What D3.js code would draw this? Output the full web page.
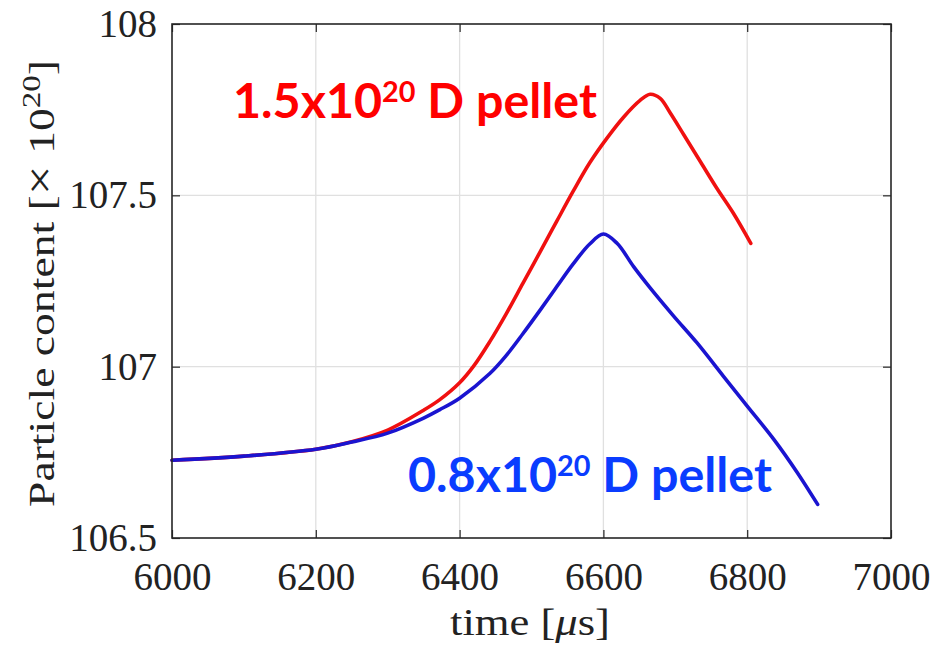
<!DOCTYPE html>
<html>
<head>
<meta charset="utf-8">
<script src="https://cdn.jsdelivr.net/npm/d3@7"></script>
<style>
  html, body { margin: 0; padding: 0; background: #fff; }
  svg { display: block; }
</style>
</head>
<body>
<svg id="chart" width="935" height="647"></svg>
<script>
// ---- data ----
const redTime = [6000, 6100, 6200, 6250, 6300, 6350, 6372, 6400, 6420, 6442, 6465, 6488, 6512, 6535, 6558, 6581, 6605, 6628, 6651, 6665, 6679, 6693, 6712, 6735, 6758, 6781, 6805];
const redValue = [106.727, 106.739, 106.759, 106.781, 106.815, 106.873, 106.903, 106.953, 107.003, 107.073, 107.155, 107.243, 107.335, 107.424, 107.512, 107.595, 107.667, 107.728, 107.777, 107.795, 107.783, 107.74, 107.676, 107.598, 107.52, 107.447, 107.36];
const blueTime = [6000, 6100, 6200, 6250, 6300, 6350, 6372, 6400, 6442, 6465, 6488, 6512, 6535, 6558, 6581, 6600, 6619, 6642, 6665, 6698, 6730, 6767, 6800, 6837, 6870, 6898];
const blueValue = [106.727, 106.739, 106.759, 106.78, 106.806, 106.85, 106.874, 106.908, 106.98, 107.033, 107.096, 107.165, 107.233, 107.3, 107.358, 107.387, 107.36, 107.292, 107.23, 107.147, 107.07, 106.972, 106.885, 106.788, 106.69, 106.598];
const xTicks = [6000, 6200, 6400, 6600, 6800, 7000];
const yTicks = [106.5, 107, 107.5, 108];
const yTickLabels = ["106.5", "107", "107.5", "108"];

const svg = d3.select("#chart");
const L = 172, R = 891, T = 24, B = 538;
const x = d3.scaleLinear().domain([6000, 7000]).range([L, R]);
const y = d3.scaleLinear().domain([106.5, 108]).range([B, T]);

const serif = "'Liberation Serif', 'DejaVu Serif', serif";

// grid
const grid = svg.append("g");
grid.selectAll("line.gx").data(xTicks.slice(1, -1)).enter().append("line")
  .attr("x1", d => x(d)).attr("x2", d => x(d)).attr("y1", T).attr("y2", B)
  .attr("stroke", "#e0e0e0").attr("stroke-width", 1.3);
grid.selectAll("line.gy").data(yTicks.slice(1, -1)).enter().append("line")
  .attr("x1", L).attr("x2", R).attr("y1", d => y(d)).attr("y2", d => y(d))
  .attr("stroke", "#e0e0e0").attr("stroke-width", 1.3);

// lines
const line = d3.line().x(d => x(d[0])).y(d => y(d[1])).curve(d3.curveCatmullRom.alpha(0.5));
const redData = redTime.map((t, i) => [t, redValue[i]]);
const blueData = blueTime.map((t, i) => [t, blueValue[i]]);
svg.append("path").datum(redData).attr("d", line)
  .attr("fill", "none").attr("stroke", "#f01010").attr("stroke-width", 3.6).attr("stroke-linecap", "round").attr("stroke-linejoin", "round");
svg.append("path").datum(blueData).attr("d", line)
  .attr("fill", "none").attr("stroke", "#1a14d0").attr("stroke-width", 3.6).attr("stroke-linecap", "round").attr("stroke-linejoin", "round");

// axes (box with inward ticks)
const axisColor = "#262626";
const tickLen = 8;
const xAxisB = d3.axisBottom(x).tickValues(xTicks).tickSize(-tickLen).tickFormat(d3.format("d")).tickPadding(24);
const gx = svg.append("g").attr("transform", `translate(0,${B})`).call(xAxisB);
gx.select(".domain").remove();
gx.selectAll("line").attr("stroke", axisColor).attr("stroke-width", 1.2);
gx.selectAll("text").attr("font-family", serif).attr("font-size", 39).attr("fill", "#222").attr("dy", "0.71em");

const gxt = svg.append("g").attr("transform", `translate(0,${T})`).call(d3.axisTop(x).tickValues(xTicks).tickSize(-tickLen).tickFormat(""));
gxt.select(".domain").remove();
gxt.selectAll("line").attr("stroke", axisColor).attr("stroke-width", 1.2);

const yAxisL = d3.axisLeft(y).tickValues(yTicks).tickSize(-tickLen).tickFormat((d, i) => yTickLabels[i]).tickPadding(15);
const gy = svg.append("g").attr("transform", `translate(${L},0)`).call(yAxisL);
gy.select(".domain").remove();
gy.selectAll("line").attr("stroke", axisColor).attr("stroke-width", 1.2);
gy.selectAll("text").attr("font-family", serif).attr("font-size", 39).attr("fill", "#222");

const gyr = svg.append("g").attr("transform", `translate(${R},0)`).call(d3.axisRight(y).tickValues(yTicks).tickSize(-tickLen).tickFormat(""));
gyr.select(".domain").remove();
gyr.selectAll("line").attr("stroke", axisColor).attr("stroke-width", 1.2);

svg.append("rect").attr("x", L).attr("y", T).attr("width", R - L).attr("height", B - T)
  .attr("fill", "none").attr("stroke", axisColor).attr("stroke-width", 1.6);

// axis labels
const xl = svg.append("text").attr("x", 450).attr("y", 635)
  .attr("font-family", serif).attr("font-size", 38).attr("fill", "#222")
  .attr("textLength", 160).attr("lengthAdjust", "spacingAndGlyphs");
xl.append("tspan").text("time [");
xl.append("tspan").attr("font-style", "italic").text("μ");
xl.append("tspan").text("s]");

const yl = svg.append("text").attr("transform", `translate(54,${507}) rotate(-90)`)
  .attr("x", 0).attr("y", 0)
  .attr("font-family", serif).attr("font-size", 36).attr("fill", "#222")
  .attr("textLength", 447).attr("lengthAdjust", "spacingAndGlyphs");
yl.append("tspan").text("Particle content [");
yl.append("tspan").attr("font-size", 42).text("×");
yl.append("tspan").text(" 10");
yl.append("tspan").attr("dy", -14).attr("font-size", 26).text("20");
yl.append("tspan").attr("dy", 14).text("]");

// annotations
const sans = "Lato, 'Open Sans', sans-serif";
function annot(px, py, width, main, color) {
  const t = svg.append("text").attr("x", px).attr("y", py)
    .attr("font-family", sans).attr("font-weight", 700).attr("font-size", 47).attr("fill", color)
    .attr("textLength", width).attr("lengthAdjust", "spacingAndGlyphs");
  t.append("tspan").text(main);
  t.append("tspan").attr("dy", -16).attr("font-size", 28).text("20");
  t.append("tspan").attr("dy", 16).text(" D pellet");
}
annot(233, 118, 364, "1.5x10", "#ff0000");
annot(408, 492, 364, "0.8x10", "#0a3cff");
</script>
</body>
</html>
